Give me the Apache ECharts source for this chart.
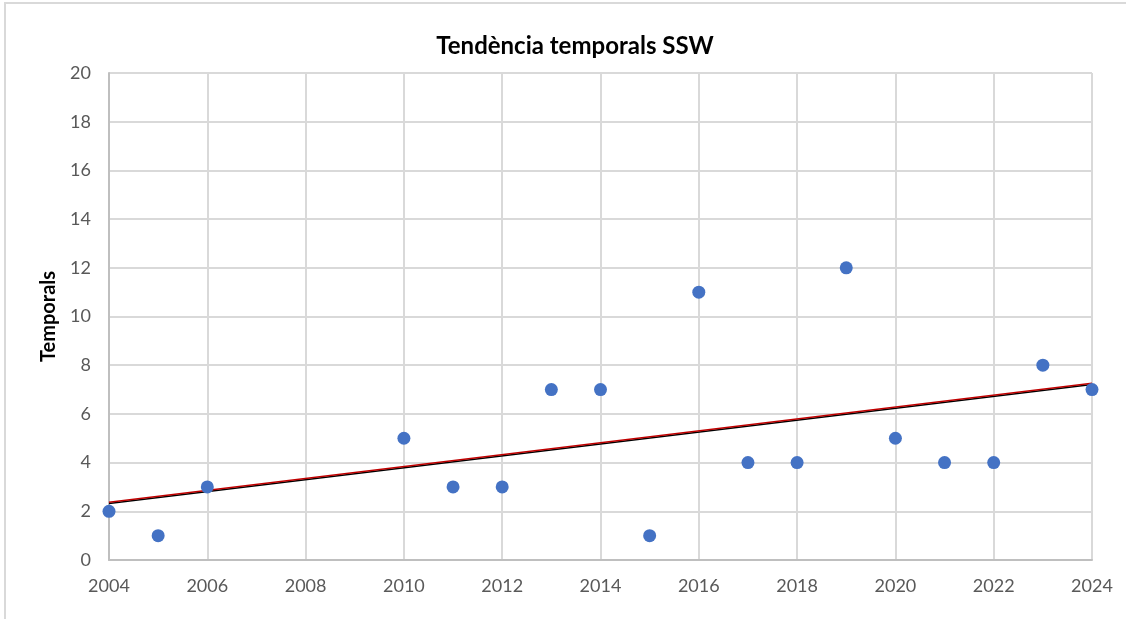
<!DOCTYPE html>
<html>
<head>
<meta charset="utf-8">
<script src="https://cdn.jsdelivr.net/npm/echarts@6/dist/echarts.min.js"></script>
<style>
  html, body { margin: 0; padding: 0; background: #fff; }
  #chart { width: 1126px; height: 619px; }
</style>
</head>
<body>
<div id="chart"></div>
<script>
// dades llegides del gràfic
var years = [2004, 2005, 2006, 2010, 2011, 2012, 2013, 2014, 2015, 2016, 2017, 2018, 2019, 2020, 2021, 2022, 2023, 2024];
var temporals = [2, 1, 3, 5, 3, 3, 7, 7, 1, 11, 4, 4, 12, 5, 4, 4, 8, 7];
// línia de tendència (extrems)
var trendX = [2004, 2024];
var trendY = [2.37, 7.26];

var pts = [];
for (var i = 0; i < years.length; i++) {
  pts.push([years[i], temporals[i]]);
}
var trend = [];
for (var j = 0; j < trendX.length; j++) {
  trend.push([trendX[j], trendY[j]]);
}

var myChart = echarts.init(document.getElementById('chart'));
var font = 'Lato';
var option = {
  animation: false,
  backgroundColor: '#fff',
  title: {
    text: 'Tendència temporals SSW',
    left: 570,
    top: 29,
    textAlign: 'center',
    textStyle: { fontFamily: font, fontSize: 24, fontWeight: 'bold', color: '#000' }
  },
  grid: { left: 109, right: 34, top: 73, bottom: 59 },
  xAxis: {
    type: 'value',
    min: 2004,
    max: 2024,
    interval: 2,
    axisLine: { show: true, lineStyle: { color: '#bfbfbf', width: 2 } },
    axisTick: { show: false },
    splitLine: { show: true, lineStyle: { color: '#d9d9d9', width: 2 } },
    axisLabel: {
      color: '#595959', fontFamily: font, fontSize: 18, margin: 17,
      formatter: function (v) { return String(v); }
    }
  },
  yAxis: {
    type: 'value',
    min: 0,
    max: 20,
    interval: 2,
    name: 'Temporals',
    nameLocation: 'middle',
    nameGap: 50,
    nameTextStyle: { fontFamily: font, fontSize: 20, fontWeight: 'bold', color: '#000' },
    axisLine: { show: true, lineStyle: { color: '#bfbfbf', width: 2 } },
    axisTick: { show: false },
    splitLine: { show: true, lineStyle: { color: '#d9d9d9', width: 2 } },
    axisLabel: { color: '#595959', fontFamily: font, fontSize: 18, margin: 18 }
  },
  graphic: [{
    type: 'polyline',
    shape: { points: [[5, 619], [5, 3], [1126, 3]] },
    style: { stroke: '#d9d9d9', lineWidth: 2, fill: null },
    silent: true
  }],
  series: [{
    type: 'line',
    data: trend,
    symbol: 'none',
    z: 3,
    lineStyle: { color: '#c00000', width: 1.5, shadowColor: '#000', shadowOffsetY: 1.2, shadowBlur: 0 }
  }, {
    type: 'scatter',
    data: pts,
    symbolSize: 13,
    z: 4,
    itemStyle: { color: '#4472c4', opacity: 1 }
  }]
};
myChart.setOption(option);
</script>
</body>
</html>
